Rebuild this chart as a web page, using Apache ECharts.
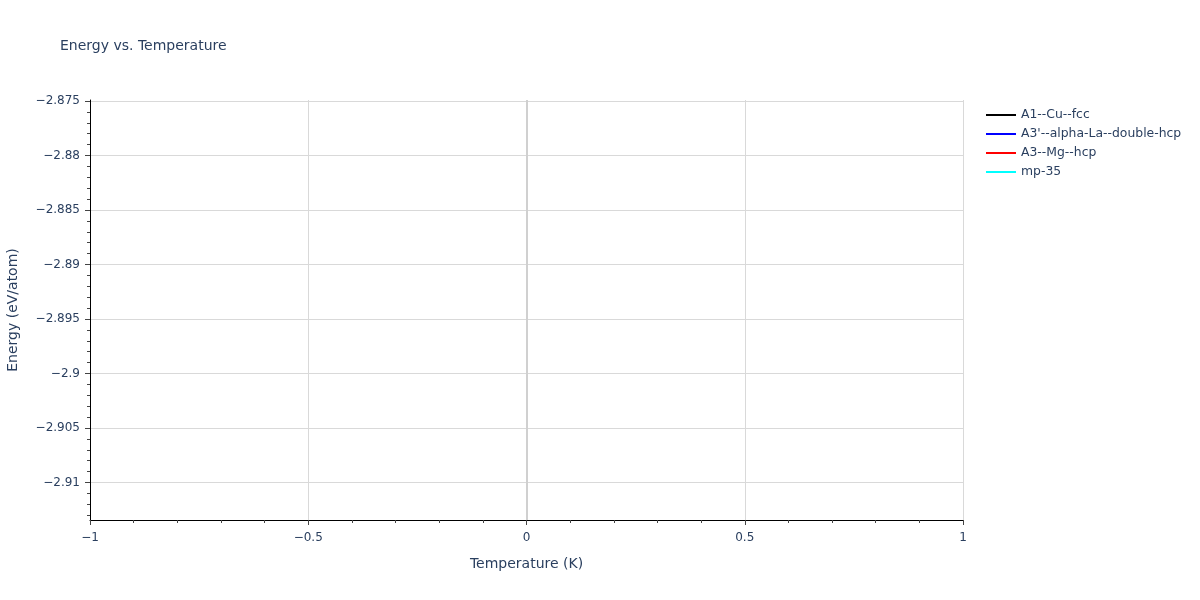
<!DOCTYPE html>
<html>
<head>
<meta charset="utf-8">
<script src="https://cdn.jsdelivr.net/npm/echarts@6/dist/echarts.min.js"></script>
<style>
html,body{margin:0;padding:0;background:#fff;}
#chart{width:1200px;height:600px;}
</style>
</head>
<body>
<div id="chart"></div>
<script>
// ---- data ----
const seriesNames = ["A1--Cu--fcc", "A3'--alpha-La--double-hcp", "A3--Mg--hcp", "mp-35"];
const seriesColors = ["#000000", "#0000ff", "#ff0000", "#00ffff"];
const temperatures = [0];
const energyA1 = [-2.8949];
const energyA3p = [-2.9134];
const energyA3 = [-2.8749];
const energyMp35 = [-2.9012];
const yTicks = [-2.91, -2.905, -2.9, -2.895, -2.89, -2.885, -2.88, -2.875];
const xTicks = [-1, -0.5, 0, 0.5, 1];
const yMin = -2.91344, yMax = -2.87491;

const energies = [energyA1, energyA3p, energyA3, energyMp35];

const font = "'DejaVu Sans', Verdana, sans-serif";
const txt = '#2a3f5f';
const fmt = v => String(Number(v.toFixed(4))).replace('-', '\u2212');

// minor y ticks every 0.001 (excluding majors)
const yMinor = [];
for (let k = -2913; k <= -2875; k++) {
  if (k % 5 !== 0) yMinor.push(k / 1000);
}

const lineIcon = 'path://M0,0 M30,14 M0,6 L30,6 L30,8 L0,8 Z';

const series = seriesNames.map((n, i) => ({
  name: n,
  type: 'line',
  symbol: 'none',
  showSymbol: false,
  data: temperatures.map((t, j) => [t, energies[i][j]]),
  lineStyle: { color: seriesColors[i], width: 2 },
  itemStyle: { color: seriesColors[i] },
  z: 5
}));
series[0].markLine = {
  silent: true,
  symbol: 'none',
  label: { show: false },
  lineStyle: { color: '#d0d0d0', width: 2, type: 'solid' },
  data: [{ xAxis: 0 }],
  z: 1
};

const chart = echarts.init(document.getElementById('chart'), null, { renderer: 'canvas' });
chart.setOption({
  animation: false,
  backgroundColor: '#fff',
  title: {
    text: 'Energy vs. Temperature',
    left: 60, top: 39, padding: 0,
    textStyle: { fontFamily: font, fontSize: 14, fontWeight: 'normal', color: txt }
  },
  legend: {
    orient: 'vertical',
    left: 986, top: 108, padding: 0,
    itemWidth: 30, itemHeight: 14, itemGap: 5,
    icon: lineIcon,
    textStyle: { fontFamily: font, fontSize: 12.4, color: txt },
    data: seriesNames.map((n, i) => ({ name: n, icon: lineIcon, itemStyle: { color: seriesColors[i] } }))
  },
  grid: { left: 90, right: 237, top: 100, bottom: 80, containLabel: false, outerBoundsMode: 'none' },
  xAxis: {
    type: 'value',
    min: -1, max: 1, interval: 0.5,
    name: 'Temperature (K)',
    nameLocation: 'middle', nameGap: 37,
    nameTextStyle: { fontFamily: font, fontSize: 14, color: txt },
    axisLine: { show: true, onZero: false, lineStyle: { color: '#000', width: 1 } },
    axisTick: { show: true, length: 5, lineStyle: { color: '#444' } },
    minorTick: { show: true, splitNumber: 5, length: 3, lineStyle: { color: '#444' } },
    axisLabel: { fontFamily: font, fontSize: 12, color: txt, margin: 12, formatter: fmt },
    splitLine: { show: true, lineStyle: { color: '#d9d9d9', width: 1 } }
  },
  yAxis: [{
    type: 'value',
    min: yMin, max: yMax,
    name: 'Energy (eV/atom)',
    nameLocation: 'middle', nameGap: 70,
    nameTextStyle: { fontFamily: font, fontSize: 14, color: txt },
    axisLine: { show: true, onZero: false, lineStyle: { color: '#000', width: 1 } },
    axisTick: { show: true, length: 5, lineStyle: { color: '#444' }, customValues: yTicks },
    axisLabel: { fontFamily: font, fontSize: 12, color: txt, margin: 10, formatter: fmt, customValues: yTicks },
    splitLine: { show: true, lineStyle: { color: '#d9d9d9', width: 1 } }
  }, {
    type: 'value',
    min: yMin, max: yMax,
    position: 'left',
    axisLine: { show: false, onZero: false },
    axisTick: { show: true, length: 3, lineStyle: { color: '#444' }, customValues: yMinor },
    axisLabel: { show: false },
    splitLine: { show: false }
  }],
  series: series
});
</script>
</body>
</html>
